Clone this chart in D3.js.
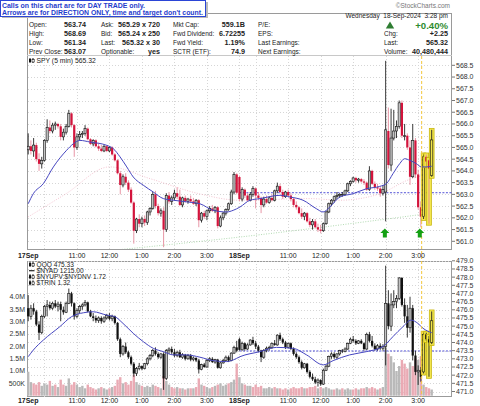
<!DOCTYPE html>
<html><head><meta charset="utf-8">
<script src="https://cdn.jsdelivr.net/npm/d3@7"></script>
<style>body{margin:0;background:#fff;}svg{display:block;font-family:"Liberation Sans",Arial,sans-serif;}</style>
</head><body>
<svg id="c" width="480" height="406"></svg>
<script>
// ---------- DATA ----------
const spyO=[564.90,565.05,564.85,565.10,564.50,564.30,564.45,565.30,565.85,565.70,
565.95,566.00,565.90,565.45,565.65,565.90,566.45,565.95,565.00,565.45,
565.55,565.60,565.80,565.35,565.15,565.30,565.05,564.95,564.85,565.05,
564.85,565.00,564.70,564.45,563.90,563.40,563.75,563.50,563.20,562.65,
561.45,561.95,561.75,561.95,561.80,562.25,562.40,563.00,562.50,562.20,
562.30,561.50,562.95,562.70,562.85,563.05,562.90,562.55,562.85,562.70,
562.80,562.70,562.60,562.75,561.90,562.20,562.05,562.30,562.40,562.30,
562.45,561.65,562.00,562.20,562.35,562.60,563.10,563.85,563.74,562.80,
563.20,562.95,562.75,563.00,563.25,562.95,562.85,562.55,562.80,562.65,
562.85,562.75,563.15,563.35,563.10,562.90,563.10,562.95,562.80,562.55,
562.45,562.20,562.05,562.20,561.85,561.70,561.85,561.60,561.50,561.45,
561.75,562.25,562.60,562.75,562.90,562.95,563.00,563.00,563.15,563.45,
563.55,563.70,563.60,563.65,563.55,563.50,563.20,564.00,563.45,563.30,
563.25,563.05,563.10,565.70,564.25,565.40,565.70,565.90,566.90,565.50,
565.50,565.00,563.75,565.30,563.85,562.45,562.05,564.60,564.45,563.80];
const spyH=[565.60,565.30,565.40,565.20,564.75,564.60,565.35,566.20,566.15,566.05,
566.10,566.05,566.00,565.80,566.00,566.60,566.50,566.00,565.60,565.70,
565.70,565.95,565.85,565.40,565.35,565.35,565.20,565.10,565.10,565.10,
565.05,565.05,564.75,564.50,564.00,563.85,563.90,563.60,563.30,562.70,
562.00,562.15,562.05,562.10,562.30,562.45,563.10,563.15,562.60,562.40,
562.45,563.05,563.10,562.95,563.20,563.30,563.20,562.90,562.95,562.85,
562.95,562.85,562.80,562.80,562.25,562.30,562.35,562.50,562.55,562.50,
562.50,562.10,562.25,562.40,562.65,563.20,563.95,563.90,563.80,563.30,
563.25,563.05,563.10,563.35,563.30,563.10,562.90,562.90,562.95,562.90,
563.00,563.20,563.50,563.45,563.20,563.15,563.20,563.05,562.85,562.70,
562.50,562.40,562.25,562.25,562.00,561.95,561.95,561.75,561.70,561.80,
562.30,562.65,562.80,562.95,563.10,563.05,563.10,563.20,563.50,563.60,
563.75,563.75,563.70,563.70,563.65,563.55,564.20,564.05,563.55,563.45,
563.35,563.40,568.69,566.70,566.65,566.60,566.15,567.00,567.00,566.00,
565.60,565.30,566.00,565.40,564.05,562.70,564.70,564.70,564.50,565.75];
const spyL=[564.70,564.70,564.60,564.40,564.00,564.10,564.40,565.20,565.60,565.60,
565.75,565.80,565.30,565.30,565.55,565.85,565.85,564.60,564.90,565.30,
565.40,565.50,565.30,565.10,565.05,565.00,564.85,564.80,564.80,564.80,
564.80,564.65,564.40,563.85,563.00,563.30,563.40,563.10,562.60,560.90,
561.35,561.60,561.60,561.65,561.70,562.10,562.35,562.40,562.10,562.05,
560.75,561.40,562.60,562.55,562.75,562.80,562.50,562.45,562.65,562.60,
562.65,562.55,562.50,561.60,561.80,561.95,561.90,562.20,562.25,562.20,
561.55,561.60,561.90,562.10,562.30,562.55,563.00,563.00,562.70,562.70,
562.85,562.70,562.70,562.90,562.40,562.75,562.20,562.45,562.60,562.60,
562.70,562.70,563.05,563.05,562.80,562.85,562.90,562.70,562.45,562.35,
562.15,561.95,561.90,561.80,561.60,561.50,561.55,561.40,561.34,561.40,
561.70,562.20,562.50,562.65,562.80,562.85,562.90,562.95,563.10,563.35,
563.50,563.50,563.50,563.50,563.40,563.15,563.15,563.40,563.20,563.15,
562.90,562.95,561.85,564.10,564.00,565.30,565.40,565.80,565.40,565.30,
564.90,563.40,563.70,563.70,562.35,561.60,561.95,564.20,561.75,563.75];
const spyC=[565.05,564.85,565.10,564.50,564.30,564.45,565.30,565.85,565.70,565.95,
566.00,565.90,565.45,565.65,565.90,566.45,565.95,565.00,565.45,565.55,
565.60,565.80,565.35,565.15,565.30,565.05,564.95,564.85,565.05,564.85,
565.00,564.70,564.45,563.90,563.40,563.75,563.50,563.20,562.65,561.45,
561.95,561.75,561.95,561.80,562.25,562.40,563.00,562.50,562.20,562.30,
561.50,562.95,562.70,562.85,563.05,562.90,562.55,562.85,562.70,562.80,
562.70,562.60,562.75,561.90,562.20,562.05,562.30,562.40,562.30,562.45,
561.65,562.00,562.20,562.35,562.60,563.10,563.85,563.07,562.80,563.20,
562.95,562.75,563.00,563.25,562.95,562.85,562.55,562.80,562.65,562.85,
562.75,563.15,563.35,563.10,562.90,563.10,562.95,562.80,562.55,562.45,
562.20,562.05,562.20,561.85,561.70,561.85,561.60,561.50,561.45,561.75,
562.25,562.60,562.75,562.90,562.95,563.00,563.00,563.15,563.45,563.55,
563.70,563.60,563.65,563.55,563.50,563.20,564.00,563.45,563.30,563.25,
563.05,563.20,565.75,564.25,565.40,565.70,565.90,566.90,565.50,565.50,
565.00,563.75,565.30,563.85,562.45,562.05,564.60,564.40,564.10,565.32];

const qqqO=[476.10,475.60,476.10,475.90,475.10,474.60,475.60,476.20,476.30,476.10,
476.40,476.20,476.35,476.00,475.85,476.40,477.00,476.40,475.60,475.95,
476.20,476.30,476.45,475.90,475.60,475.50,475.35,475.50,475.30,475.50,
475.65,475.45,475.60,475.20,474.20,473.30,473.75,473.40,473.10,472.70,
472.10,472.40,472.55,472.40,472.70,473.00,473.20,473.50,473.30,473.10,
473.30,471.80,473.50,473.60,473.40,473.20,473.40,473.10,473.25,473.00,
473.20,472.95,473.05,472.90,472.35,472.65,472.50,472.90,473.00,472.80,
472.95,472.45,472.75,472.90,473.10,472.90,473.35,473.70,474.20,473.55,
473.95,473.60,473.85,474.15,473.95,473.75,473.50,473.10,473.50,473.65,
473.70,473.95,473.85,474.45,474.20,474.00,473.70,473.95,473.60,473.30,
473.10,472.80,472.45,472.70,472.20,471.90,471.75,471.55,471.70,471.45,
472.30,472.55,473.15,473.30,473.10,473.30,473.50,473.45,473.60,473.95,
474.20,474.10,473.95,474.10,473.95,473.60,474.50,474.10,473.80,473.60,
473.80,473.65,473.75,476.40,475.00,476.30,476.50,476.70,477.95,476.30,
475.60,474.90,476.10,473.20,472.20,472.30,472.20,474.50,474.20,474.00];
const qqqH=[476.90,476.30,476.40,476.00,475.30,475.70,476.30,476.60,476.50,476.50,
476.60,476.50,476.50,476.20,476.50,477.30,477.10,476.45,476.10,476.30,
476.40,476.60,476.50,476.00,475.80,475.65,475.60,475.60,475.60,475.75,
475.80,475.70,475.65,475.25,474.30,473.85,474.00,473.50,473.20,472.80,
472.50,472.75,472.60,472.75,473.10,473.30,473.60,473.70,473.40,473.35,
473.40,473.60,473.70,473.75,473.60,473.50,473.55,473.35,473.30,473.30,
473.30,473.15,473.10,473.00,472.70,472.75,473.00,473.10,473.10,473.00,
473.00,472.80,473.00,473.20,473.20,473.40,473.80,474.10,474.30,474.05,
474.00,473.95,474.20,474.35,474.10,473.85,473.55,473.60,473.75,473.80,
474.00,474.15,474.50,474.60,474.30,474.10,474.00,474.00,473.70,473.40,
473.20,472.90,472.75,472.75,472.30,472.10,471.90,471.80,471.75,472.40,
472.65,473.20,473.40,473.40,473.35,473.55,473.60,473.70,474.00,474.30,
474.40,474.20,474.15,474.20,474.00,474.60,474.65,474.40,473.95,473.90,
473.95,473.90,478.70,477.20,477.00,477.20,476.90,478.00,478.00,476.70,
476.30,476.80,476.30,473.50,472.60,472.50,474.60,474.60,474.40,475.90];
const qqqL=[475.30,475.40,475.70,475.00,474.15,474.50,475.50,475.60,476.00,476.00,
476.10,475.90,475.30,475.70,475.80,476.35,476.20,475.40,475.50,475.80,
476.00,476.20,475.85,475.55,475.30,475.20,475.20,475.15,475.20,475.40,
475.35,475.30,475.10,474.10,473.10,473.20,473.30,473.00,472.60,471.90,
471.95,472.30,472.30,472.35,472.60,472.90,473.10,473.20,473.00,473.00,
471.10,471.70,473.30,473.30,473.10,473.10,473.05,473.00,472.90,472.95,
472.85,472.85,472.80,472.10,472.30,472.45,472.45,472.80,472.75,472.70,
472.40,472.40,472.70,472.85,472.80,472.85,473.30,473.40,473.50,473.50,
473.50,473.55,473.80,473.85,473.60,473.40,472.80,473.00,473.40,473.50,
473.60,473.80,473.80,474.10,473.90,473.60,473.65,473.55,473.20,473.00,
472.70,472.35,472.40,472.10,471.80,471.65,471.45,471.30,471.35,471.40,
472.25,472.50,473.00,473.00,473.00,473.20,473.35,473.40,473.55,473.90,
474.00,473.85,473.90,473.90,473.50,473.55,474.00,473.70,473.50,473.50,
473.55,473.50,472.60,474.80,474.70,476.10,476.10,476.60,476.20,475.20,
474.30,474.60,472.90,472.00,471.40,471.60,472.10,474.10,471.90,473.90];
const qqqC=[475.60,476.10,475.90,475.10,474.60,475.60,476.20,476.30,476.10,476.40,
476.20,476.35,476.00,475.85,476.40,477.00,476.40,475.60,475.95,476.20,
476.30,476.45,475.90,475.60,475.50,475.35,475.50,475.30,475.50,475.65,
475.45,475.60,475.20,474.20,473.30,473.75,473.40,473.10,472.70,472.10,
472.40,472.55,472.40,472.70,473.00,473.20,473.50,473.30,473.10,473.30,
471.80,473.50,473.60,473.40,473.20,473.40,473.10,473.25,473.00,473.20,
472.95,473.05,472.90,472.35,472.65,472.50,472.90,473.00,472.80,472.95,
472.45,472.75,472.90,473.10,472.90,473.35,473.70,473.50,473.55,473.95,
473.60,473.85,474.15,473.95,473.75,473.50,473.10,473.50,473.65,473.70,
473.95,473.85,474.45,474.20,474.00,473.70,473.95,473.60,473.30,473.10,
472.80,472.45,472.70,472.20,471.90,471.75,471.55,471.70,471.45,472.30,
472.55,473.15,473.30,473.10,473.30,473.50,473.45,473.60,473.95,474.20,
474.10,473.95,474.10,473.95,473.60,474.50,474.10,473.80,473.60,473.80,
473.65,473.75,476.40,475.00,476.30,476.50,476.70,477.95,476.30,475.60,
474.90,476.10,473.20,472.20,472.30,471.90,474.50,474.20,474.00,475.33];

// volume in millions
const volume=[0.97,0.55,0.5,0.45,0.55,0.4,0.5,0.45,0.6,0.4,
0.45,0.35,0.65,0.45,0.4,0.7,0.45,0.55,0.45,0.35,
0.4,0.3,0.45,0.35,0.3,0.25,0.3,0.35,0.3,0.25,
0.3,0.35,0.4,0.65,0.75,0.5,0.55,0.45,0.6,0.85,
0.55,0.45,0.4,0.35,0.4,0.35,0.45,0.4,0.35,0.3,
0.8,0.6,0.45,0.35,0.3,0.35,0.3,0.3,0.25,0.3,
0.3,0.3,0.35,0.7,0.45,0.4,0.35,0.3,0.35,0.4,
0.45,0.5,0.4,0.45,0.5,0.55,0.65,1.3,
0.75,0.5,0.45,0.4,0.4,0.35,0.45,0.35,0.4,0.3,
0.3,0.35,0.3,0.35,0.3,0.3,0.25,0.3,0.25,0.3,
0.35,0.3,0.3,0.35,0.3,0.3,0.35,0.35,0.4,0.3,
0.35,0.3,0.35,0.3,0.25,0.25,0.3,0.25,0.3,0.25,
0.3,0.25,0.25,0.3,0.25,0.3,0.3,0.35,0.3,0.35,
0.3,0.25,0.3,0.35,1.95,1.7,1.6,1.35,1.0,1.2,
1.45,1.3,1.1,1.35,1.2,1.5,1.45,1.6,0.45,0.35,0.3,0.25];

// moving averages (bar index, value)
const spyMaI=[0,1.9,5.6,9.3,14.2,16.7,19.1,22.8,29,31.4,33.9,36.4,38.8,42.5,46.2,49.9,53.6,58.5,63.4,68.3,73.3,75.7,78.2,81.9,85.6,93,96.6,101.5,106.4,108.9,111.4,115.1,120,124.9,129.8,132.3,134.7,137.2,139,140.9,143.3,145.2,147,149];
const spyMaV=[562.6,563.03,563.46,564.17,564.88,565.16,565.3,565.23,565.09,564.95,564.6,564.17,563.74,563.39,563.1,562.82,562.75,562.68,562.6,562.32,562.25,562.32,562.46,562.75,562.82,562.96,562.89,562.75,562.39,562.25,562.46,562.89,563.03,563.24,563.34,563.46,563.88,564.31,564.52,564.45,564.31,564.17,564.17,564.2];
const spyMa2I=[0,14,30,45,63,78,104,115,130,140,149];
const spyMa2V=[562.04,563.03,564.17,563.67,563.03,562.75,562.82,562.75,563.03,563.6,563.9];
const spyMa3I=[30,78,149];
const spyMa3V=[560.6,561.18,562.2];
const qqqMaI=[0,1.9,5.6,11.7,16,20.4,24,28.9,32,35,38.8,42.5,46.2,49.9,53.6,58.5,63.4,68.3,73.3,75.7,78.2,85.6,91.7,97.9,102.8,109,112.6,118.7,124.9,131,134.7,138.4,141.4,143.9,145.8,149];
const qqqMaV=[473.13,473.54,474.15,474.97,475.58,475.82,475.88,475.68,475.58,475.17,474.56,474.05,473.64,473.44,473.24,473.24,473.1,472.89,472.83,472.93,473.13,473.44,473.7,473.64,473.24,472.63,472.89,473.24,473.44,473.75,474.36,474.97,475.37,475.17,474.87,474.6];

const tickIdx=[0,18,30,42,54,66,78,96,108,120,132,144];
const tickLab=["17Sep","11:00","12:00","1:00","2:00","3:00","18Sep","11:00","12:00","1:00","2:00","3:00"];
const gridIdx=[6,18,30,42,54,66,78,84,96,108,120,132,144];
const spyTicks=d3.range(561,568.51,0.5);
const qqqTicks=d3.range(471,479.01,0.5);
const volTicks=[4,3.5,3,2.5,2,1.5,1,0.5];
const volLab=["4.0M","3.5M","3.0M","2.5M","2.0M","1.5M","1.0M","500K"];
const highlightIdx=[146,147,148,149];
const arrowIdx=[131.7,144.6];
const arrowPrice=561.55;
const markerIdx=145.3;
const spyPrev=563.07, qqqPrev=473.48;

const headRows=[
 ["Open:","563.74","Ask:","565.29 x 720","Mkt Cap:","559.1B","P/E:"],
 ["High:","568.69","Bid:","565.24 x 250","Fwd Dividend:","6.72255","EPS:"],
 ["Low:","561.34","Last:","565.32 x 30","Fwd Yield:","1.19%","Last Earnings:"],
 ["Prev Close:","563.07","Optionable:","yes","SCTR (ETF):","74.9","Next Earnings:"]];
const rightRows=[["Chg:","+2.25"],["Last:","565.32"],["Volume:","40,480,444"]];

// ---------- DRAW ----------
const svg=d3.select("#c");
const x=d3.scaleLinear().domain([0,156.5]).range([28.2,452]);
const yS=d3.scaleLinear().domain([561,568.5]).range([241.3,65.3]);
const yQ=d3.scaleLinear().domain([471,479]).range([391.5,260.8]);
const yV=d3.scaleLinear().domain([0,4]).range([395.7,296.9]);
const L=27,R=452;
const top1=56,bot1=249,top2=261,bot2=397;

const defs=svg.append("defs");
defs.append("clipPath").attr("id","c1").append("rect").attr("x",L).attr("y",top1).attr("width",R-L).attr("height",bot1-top1);
defs.append("clipPath").attr("id","c2").append("rect").attr("x",L).attr("y",top2).attr("width",R-L).attr("height",bot2-top2);

// frames
svg.append("rect").attr("x",L+0.5).attr("y",13.5).attr("width",R-L-1).attr("height",bot1-13).attr("fill","#fff").attr("stroke","#9a9a9a");
svg.append("line").attr("x1",L).attr("x2",R).attr("y1",top1-0.5).attr("y2",top1-0.5).attr("stroke","#c8c8c8");
svg.append("rect").attr("x",L+0.5).attr("y",top2+0.5).attr("width",R-L-1).attr("height",bot2-top2-1).attr("fill","#fff").attr("stroke","#9a9a9a");

// grids
function hgrid(ticks,y){
  svg.append("g").selectAll("line").data(ticks).join("line")
   .attr("x1",L+1).attr("x2",R-1).attr("y1",d=>Math.round(y(d))+0.5).attr("y2",d=>Math.round(y(d))+0.5)
   .attr("stroke","#d6d6d6").attr("stroke-dasharray","1,2");
}
hgrid(spyTicks,yS);hgrid(qqqTicks,yQ);
[[top1,bot1],[top2,bot2]].forEach(([t,b])=>{
  svg.append("g").selectAll("line").data(gridIdx).join("line")
   .attr("x1",d=>Math.round(x(d))+0.5).attr("x2",d=>Math.round(x(d))+0.5).attr("y1",t).attr("y2",b)
   .attr("stroke","#d6d6d6").attr("stroke-dasharray","1,2");
});

// volume bars
const gV=svg.append("g").attr("clip-path","url(#c2)");
gV.selectAll("rect").data(volume).join("rect")
 .attr("x",(d,i)=>x(i)-1.2).attr("width",2.4)
 .attr("y",d=>yV(d)).attr("height",d=>yV(0)-yV(d))
 .attr("fill",(d,i)=>(i>0&&qqqC[i]<qqqC[i-1])?"#eaaab4":"#b9b9b9");

// prev close lines
svg.append("line").attr("x1",x(78)).attr("x2",R).attr("y1",yS(spyPrev)).attr("y2",yS(spyPrev)).attr("stroke","#3b3bd0").attr("stroke-dasharray","2,1.5").attr("stroke-width",0.9);
svg.append("line").attr("x1",x(78)).attr("x2",R).attr("y1",yQ(qqqPrev)).attr("y2",yQ(qqqPrev)).attr("stroke","#3b3bd0").attr("stroke-dasharray","2,1.5").attr("stroke-width",0.9);

// MA lines
function maLine(g,I,V,y,col,w,dash){
  const ln=d3.line().x((d,k)=>x(I[k])).y(d=>y(d)).curve(d3.curveMonotoneX);
  g.append("path").attr("d",ln(V)).attr("fill","none").attr("stroke",col).attr("stroke-width",w).attr("stroke-dasharray",dash||null);
}
const g1=svg.append("g").attr("clip-path","url(#c1)");
const g2=svg.append("g").attr("clip-path","url(#c2)");
maLine(g1,spyMa3I,spyMa3V,yS,"#9fd0a0",0.8,"1,1.5");
maLine(g1,spyMa2I,spyMa2V,yS,"#f0b4c4",0.8,"1,1.5");

// candles
function candles(g,O,H,Lo,C,y,downCol){
  d3.range(O.length).forEach(i=>{
    const up = i===0 ? C[i]>=O[i] : C[i]>=C[i-1];
    const col = up ? "#111" : downCol;
    const filled = C[i]<O[i];
    const hl = highlightIdx.includes(i);
    const cx=x(i);
    if(hl){
      g.append("rect").attr("x",cx-2.4).attr("width",4.8).attr("y",y(H[i])-1.5).attr("height",y(Lo[i])-y(H[i])+3)
       .attr("fill","#f2e64c").attr("stroke","#c2b000").attr("stroke-width",0.7);
    }
    g.append("line").attr("x1",cx).attr("x2",cx).attr("y1",y(H[i])).attr("y2",y(Lo[i]))
     .attr("stroke",up?"#222":(downCol==="#111"?"#222":"#e58a9c")).attr("stroke-width",0.9);
    const t=y(Math.max(O[i],C[i])), b=y(Math.min(O[i],C[i]));
    const fillHollow = hl ? "#f2e64c" : (up ? "#c4c4c4" : "#f3a8b7");
    g.append("rect").attr("x",cx-1.1).attr("width",2.2).attr("y",t).attr("height",Math.max(0.8,b-t))
     .attr("fill",filled?col:fillHollow).attr("stroke",filled?"none":col).attr("stroke-width",0.6);
  });
}
candles(g1,spyO,spyH,spyL,spyC,yS,"#d3143c");
candles(g2,qqqO,qqqH,qqqL,qqqC,yQ,"#111");
maLine(g1,spyMaI,spyMaV,yS,"#4646c0",1);
maLine(g2,qqqMaI,qqqMaV,yQ,"#4646c0",1);

// marker dashed line
svg.append("line").attr("x1",x(markerIdx)).attr("x2",x(markerIdx)).attr("y1",top1).attr("y2",bot2)
 .attr("stroke","#f3c73c").attr("stroke-width",1).attr("stroke-dasharray","3,2");

// arrows
arrowIdx.forEach(a=>{
  const cx=x(a), ty=yS(arrowPrice);
  svg.append("path").attr("d",`M${cx},${ty} L${cx+4.5},${ty+4.5} L${cx+2},${ty+4.5} L${cx+2},${ty+9} L${cx-2},${ty+9} L${cx-2},${ty+4.5} L${cx-4.5},${ty+4.5} Z`)
   .attr("fill","#14a014");
});

// right axes
function rAxis(ticks,y){
  const g=svg.append("g");
  g.selectAll("line").data(ticks).join("line").attr("x1",R).attr("x2",R+3).attr("y1",d=>y(d)).attr("y2",d=>y(d)).attr("stroke","#777");
  g.selectAll("text").data(ticks).join("text").attr("x",R+4).attr("y",d=>y(d)+2.4)
   .attr("font-size",7).attr("fill","#333").text(d=>d.toFixed(1));
}
rAxis(spyTicks,yS);rAxis(qqqTicks,yQ);
// left volume axis
svg.append("g").selectAll("text").data(volTicks).join("text").attr("x",25).attr("y",d=>yV(d)+2.4)
 .attr("text-anchor","end").attr("font-size",7).attr("fill","#333").text((d,i)=>volLab[i]);

// x labels
[257.5,402.6].forEach(yy=>{
  svg.append("g").selectAll("text").data(tickIdx).join("text")
   .attr("x",d=>x(d)).attr("y",yy).attr("text-anchor","middle").attr("font-size",7)
   .attr("font-weight",(d,i)=>tickLab[i].includes("Sep")?"bold":"normal").attr("fill","#222")
   .text((d,i)=>tickLab[i]);
});

// header
const hg=svg.append("g").attr("font-size",6.5).attr("fill","#222");
const rowY=[27.4,36.2,45,53.8];
headRows.forEach((r,k)=>{
  const yy=rowY[k];
  hg.append("text").attr("x",29).attr("y",yy).text(r[0]);
  hg.append("text").attr("x",86).attr("y",yy).attr("text-anchor","end").attr("font-weight","bold").attr("font-size",7.2).text(r[1]);
  hg.append("text").attr("x",101).attr("y",yy).text(r[2]);
  hg.append("text").attr("x",160).attr("y",yy).attr("text-anchor","end").attr("font-weight","bold").attr("font-size",7.2).text(r[3]);
  hg.append("text").attr("x",173).attr("y",yy).text(r[4]);
  hg.append("text").attr("x",245).attr("y",yy).attr("text-anchor","end").attr("font-weight","bold").attr("font-size",7.2).text(r[5]);
  hg.append("text").attr("x",258).attr("y",yy).text(r[6]);
});
hg.append("text").attr("x",448).attr("y",17.8).attr("text-anchor","end").attr("xml:space","preserve").text("Wednesday  18-Sep-2024  3:28 pm");
hg.append("path").attr("d","M390,21.5 L394.2,28.5 L385.8,28.5 Z").attr("fill","#2e7d32");
hg.append("text").attr("x",448).attr("y",28.6).attr("text-anchor","end").attr("font-weight","bold").attr("font-size",9.6).attr("fill","#2e8b2e").text("+0.40%");
rightRows.forEach((r,k)=>{
  const yy=rowY[k+1];
  hg.append("text").attr("x",384).attr("y",yy).text(r[0]);
  hg.append("text").attr("x",448).attr("y",yy).attr("text-anchor","end").attr("font-weight","bold").attr("font-size",7.2).text(r[1]);
});
svg.append("text").attr("x",450).attr("y",8).attr("text-anchor","end").attr("font-size",6.5).attr("fill","#777").text("\u00A9StockCharts.com");

// legends
function icon(xx,yy){
  svg.append("line").attr("x1",xx+1).attr("x2",xx+1).attr("y1",yy-5).attr("y2",yy).attr("stroke","#111");
  svg.append("rect").attr("x",xx).attr("y",yy-4).attr("width",2).attr("height",3).attr("fill","#111");
  svg.append("line").attr("x1",xx+4).attr("x2",xx+4).attr("y1",yy-5).attr("y2",yy).attr("stroke","#111");
  svg.append("rect").attr("x",xx+3).attr("y",yy-3.5).attr("width",2.2).attr("height",2.5).attr("fill","#fff").attr("stroke","#111").attr("stroke-width",0.6);
}
icon(29,63);
svg.append("text").attr("x",36.5).attr("y",62.8).attr("font-size",6.8).attr("fill","#222").text("SPY (5 min) 565.32");
const leg2=["QQQ 475.33","$NYAD 1215.00","$NYUPV:$NYDNV 1.72","$TRIN 1.32"];
const leg2Y=[267,273,279.2,285.4];
leg2.forEach((t,k)=>{
  if(k===1){svg.append("line").attr("x1",29).attr("x2",34.5).attr("y1",leg2Y[k]-2.3).attr("y2",leg2Y[k]-2.3).attr("stroke","#222").attr("stroke-width",1.2);}
  else icon(29,leg2Y[k]);
  svg.append("text").attr("x",36.5).attr("y",leg2Y[k]).attr("font-size",6.6).attr("fill","#222").text(t);
});

// callout box
svg.append("rect").attr("x",2).attr("y",2).attr("width",206).attr("height",16).attr("fill","#bbb");
svg.append("rect").attr("x",0.5).attr("y",0.5).attr("width",205).attr("height",16).attr("fill","#fff").attr("stroke","#2b45d6");
svg.append("text").attr("x",2).attr("y",7.6).attr("font-size",7).attr("font-weight","bold").attr("fill","#1f3ccc")
 .attr("textLength",143).attr("lengthAdjust","spacingAndGlyphs").text("Calls on this chart are for DAY TRADE only.");
svg.append("text").attr("x",2).attr("y",15.2).attr("font-size",7).attr("font-weight","bold").attr("fill","#1f3ccc")
 .attr("textLength",201).attr("lengthAdjust","spacingAndGlyphs").text("Arrows are for DIRECTION ONLY, time and target don't count.");
</script>
</body></html>
